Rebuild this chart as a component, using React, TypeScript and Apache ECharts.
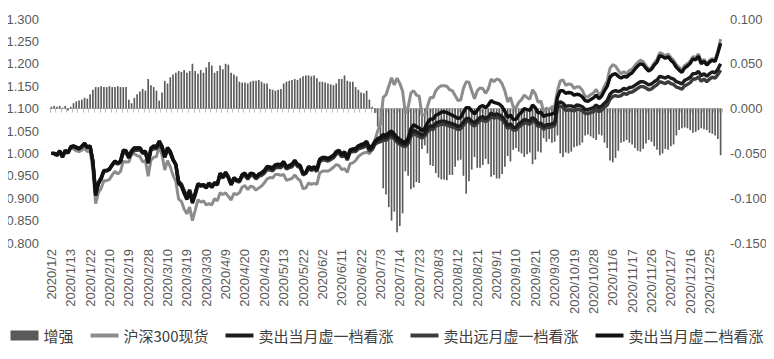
import React, { useEffect, useRef } from "react";
import * as echarts from "echarts";

// Trading days of 2020 (month -> days)
const tradingDays: [number, number[]][] = [
  [1, [2, 3, 6, 7, 8, 9, 10, 13, 14, 15, 16, 17, 20, 21, 22, 23]],
  [2, [3, 4, 5, 6, 7, 10, 11, 12, 13, 14, 17, 18, 19, 20, 21, 24, 25, 26, 27, 28]],
  [3, [2, 3, 4, 5, 6, 9, 10, 11, 12, 13, 16, 17, 18, 19, 20, 23, 24, 25, 26, 27, 30, 31]],
  [4, [1, 2, 3, 7, 8, 9, 10, 13, 14, 15, 16, 17, 20, 21, 22, 23, 24, 27, 28, 29, 30]],
  [5, [6, 7, 8, 11, 12, 13, 14, 15, 18, 19, 20, 21, 22, 25, 26, 27, 28, 29]],
  [6, [1, 2, 3, 4, 5, 8, 9, 10, 11, 12, 15, 16, 17, 18, 19, 22, 23, 24, 29, 30]],
  [7, [1, 2, 3, 6, 7, 8, 9, 10, 13, 14, 15, 16, 17, 20, 21, 22, 23, 24, 27, 28, 29, 30, 31]],
  [8, [3, 4, 5, 6, 7, 10, 11, 12, 13, 14, 17, 18, 19, 20, 21, 24, 25, 26, 27, 28, 31]],
  [9, [1, 2, 3, 4, 7, 8, 9, 10, 11, 14, 15, 16, 17, 18, 21, 22, 23, 24, 25, 28, 29, 30]],
  [10, [9, 12, 13, 14, 15, 16, 19, 20, 21, 22, 23, 26, 27, 28, 29, 30]],
  [11, [2, 3, 4, 5, 6, 9, 10, 11, 12, 13, 16, 17, 18, 19, 20, 23, 24, 25, 26, 27, 30]],
  [12, [1, 2, 3, 4, 7, 8, 9, 10, 11, 14, 15, 16, 17, 18, 21, 22, 23, 24, 25, 28, 29, 30, 31]],
];
const categories: string[] = tradingDays.flatMap(([m, days]) => days.map((d) => `2020/${m}/${d}`));

const seriesNames = ["增强", "沪深300现货", "卖出当月虚一档看涨", "卖出远月虚一档看涨", "卖出当月虚二档看涨"];

// 增强 (right axis)
const enhance = [
  0.002, 0.003, 0.002, 0.003, 0.001, 0.003, -0.002, 0.002, 0.006, 0.008, 0.009, 0.010, 0.012, 0.011, 0.016, 0.021,
  0.024, 0.024, 0.025, 0.024, 0.024, 0.025, 0.024, 0.024, 0.025, 0.024, 0.024, 0.024, 0.010, 0.006, 0.012, 0.016, 0.019, 0.022, 0.020, 0.033,
  0.026, 0.024, 0.020, 0.009, 0.018, 0.031, 0.028, 0.035, 0.038, 0.040, 0.042, 0.041, 0.043, 0.040, 0.042, 0.050, 0.042, 0.039, 0.043, 0.040, 0.046, 0.052,
  0.048, 0.040, 0.042, 0.048, 0.044, 0.050, 0.049, 0.040, 0.038, 0.036, 0.030, 0.029, 0.029, 0.028, 0.030, 0.031, 0.031, 0.032, 0.030, 0.028, 0.028,
  0.022, 0.021, 0.020, 0.021, 0.022, 0.028, 0.030, 0.031, 0.032, 0.033, 0.032, 0.034, 0.036, 0.037, 0.037, 0.036, 0.037, 0.034,
  0.030, 0.030, 0.029, 0.028, 0.027, 0.026, 0.028, 0.033, 0.033, 0.037, 0.031, 0.030, 0.030, 0.024, 0.021, 0.018, 0.017, 0.020, 0.010, 0.002,
  -0.005, -0.020, -0.034, -0.089, -0.096, -0.110, -0.125, -0.115, -0.138, -0.131, -0.117, -0.070, -0.075, -0.090, -0.088, -0.082, -0.083, -0.045, -0.041, -0.050, -0.063, -0.064, -0.072,
  -0.077, -0.079, -0.079, -0.080, -0.074, -0.074, -0.065, -0.058, -0.057, -0.075, -0.095, -0.081, -0.068, -0.054, -0.066, -0.066, -0.063, -0.056, -0.062, -0.076, -0.074,
  -0.078, -0.078, -0.073, -0.065, -0.053, -0.059, -0.046, -0.044, -0.048, -0.050, -0.054, -0.051, -0.049, -0.062, -0.057, -0.048, -0.049, -0.033, -0.037, -0.034, -0.038, -0.037,
  -0.030, -0.050, -0.054, -0.049, -0.050, -0.048, -0.043, -0.042, -0.041, -0.038, -0.030, -0.029, -0.031, -0.033, -0.035, -0.029,
  -0.030, -0.038, -0.044, -0.058, -0.060, -0.055, -0.047, -0.038, -0.037, -0.035, -0.038, -0.040, -0.044, -0.047, -0.048, -0.045, -0.039, -0.035, -0.037, -0.042, -0.046,
  -0.052, -0.050, -0.045, -0.046, -0.042, -0.040, -0.030, -0.024, -0.022, -0.021, -0.022, -0.024, -0.027, -0.026, -0.024, -0.022, -0.023, -0.024, -0.027, -0.028, -0.030, -0.034, -0.052,
];

// 沪深300现货
const hs300 = [
  1.000, 0.998, 0.994, 1.002, 0.991, 1.003, 1.003, 1.012, 1.010, 1.006, 1.004, 1.007, 1.012, 1.004, 1.006, 0.964,
  0.888, 0.912, 0.922, 0.939, 0.939, 0.942, 0.952, 0.960, 0.954, 0.960, 0.982, 0.981, 0.981, 0.998, 0.999, 0.995, 0.993, 0.981, 0.984, 0.949,
  0.985, 0.991, 0.993, 1.016, 0.997, 0.963, 0.984, 0.970, 0.951, 0.938, 0.898, 0.893, 0.876, 0.865, 0.880, 0.850, 0.873, 0.897, 0.891, 0.894, 0.885, 0.888,
  0.885, 0.899, 0.894, 0.912, 0.908, 0.912, 0.904, 0.896, 0.911, 0.908, 0.912, 0.925, 0.928, 0.919, 0.927, 0.925, 0.918, 0.923, 0.927, 0.934, 0.943,
  0.946, 0.945, 0.953, 0.953, 0.951, 0.953, 0.940, 0.942, 0.944, 0.952, 0.944, 0.939, 0.921, 0.923, 0.934, 0.931, 0.933, 0.931,
  0.956, 0.960, 0.961, 0.960, 0.964, 0.969, 0.975, 0.973, 0.964, 0.966, 0.958, 0.977, 0.979, 0.984, 0.993, 0.998, 1.001, 1.003, 0.999, 1.010,
  1.030, 1.050, 1.066, 1.125, 1.131, 1.150, 1.169, 1.153, 1.168, 1.156, 1.139, 1.090, 1.103, 1.135, 1.140, 1.130, 1.128, 1.085, 1.086, 1.105, 1.125, 1.124, 1.140,
  1.147, 1.151, 1.151, 1.150, 1.142, 1.140, 1.129, 1.118, 1.119, 1.145, 1.160, 1.159, 1.140, 1.122, 1.140, 1.146, 1.145, 1.134, 1.144, 1.166, 1.160,
  1.166, 1.164, 1.155, 1.139, 1.115, 1.125, 1.104, 1.102, 1.114, 1.120, 1.130, 1.125, 1.121, 1.142, 1.133, 1.114, 1.117, 1.093, 1.101, 1.098, 1.104, 1.105,
  1.140, 1.162, 1.164, 1.152, 1.155, 1.154, 1.145, 1.149, 1.148, 1.141, 1.127, 1.126, 1.131, 1.135, 1.143, 1.131,
  1.136, 1.150, 1.162, 1.190, 1.198, 1.195, 1.185, 1.178, 1.182, 1.178, 1.185, 1.188, 1.196, 1.203, 1.208, 1.205, 1.196, 1.188, 1.192, 1.202, 1.210,
  1.225, 1.222, 1.218, 1.222, 1.214, 1.208, 1.198, 1.192, 1.186, 1.196, 1.200, 1.206, 1.216, 1.214, 1.222, 1.204, 1.210, 1.200, 1.208, 1.212, 1.208, 1.228, 1.255,
];

// 卖出当月虚一档看涨
const nearOtm1 = [
  1.000, 1.000, 0.996, 1.005, 0.992, 1.006, 1.001, 1.014, 1.016, 1.013, 1.010, 1.015, 1.022, 1.013, 1.016, 0.982,
  0.909, 0.934, 0.945, 0.962, 0.962, 0.966, 0.975, 0.983, 0.978, 0.983, 1.006, 1.005, 0.991, 1.004, 1.011, 1.011, 1.012, 1.003, 1.004, 0.980,
  1.011, 1.015, 1.013, 1.025, 1.015, 0.993, 1.012, 1.004, 0.987, 0.976, 0.936, 0.930, 0.914, 0.900, 0.917, 0.893, 0.910, 0.932, 0.929, 0.930, 0.926, 0.934,
  0.927, 0.935, 0.932, 0.956, 0.948, 0.958, 0.948, 0.932, 0.946, 0.941, 0.939, 0.952, 0.955, 0.945, 0.955, 0.954, 0.946, 0.953, 0.955, 0.960, 0.969,
  0.967, 0.965, 0.972, 0.973, 0.972, 0.980, 0.968, 0.971, 0.974, 0.983, 0.974, 0.971, 0.954, 0.957, 0.969, 0.965, 0.968, 0.963,
  0.985, 0.989, 0.989, 0.987, 0.990, 0.994, 1.002, 1.005, 0.996, 1.002, 0.988, 1.006, 1.008, 1.008, 1.014, 1.016, 1.018, 1.023, 1.009, 1.012,
  1.025, 1.030, 1.032, 1.036, 1.035, 1.040, 1.044, 1.038, 1.030, 1.025, 1.022, 1.020, 1.028, 1.045, 1.052, 1.048, 1.045, 1.040, 1.045, 1.055, 1.062, 1.060, 1.068,
  1.070, 1.072, 1.072, 1.070, 1.068, 1.066, 1.064, 1.060, 1.062, 1.070, 1.078, 1.078, 1.072, 1.068, 1.074, 1.080, 1.082, 1.078, 1.082, 1.090, 1.086,
  1.088, 1.086, 1.082, 1.074, 1.062, 1.066, 1.058, 1.058, 1.066, 1.070, 1.076, 1.074, 1.072, 1.080, 1.076, 1.066, 1.068, 1.060, 1.064, 1.064, 1.066, 1.068,
  1.110, 1.115, 1.112, 1.105, 1.106, 1.106, 1.104, 1.108, 1.107, 1.104, 1.098, 1.098, 1.100, 1.102, 1.108, 1.102,
  1.106, 1.112, 1.118, 1.132, 1.138, 1.140, 1.138, 1.140, 1.145, 1.143, 1.147, 1.148, 1.152, 1.156, 1.160, 1.160, 1.157, 1.153, 1.155, 1.160, 1.164,
  1.172, 1.170, 1.168, 1.172, 1.168, 1.166, 1.160, 1.158, 1.155, 1.163, 1.166, 1.170, 1.178, 1.178, 1.183, 1.173, 1.178, 1.172, 1.178, 1.182, 1.180, 1.188, 1.200,
];

// 卖出远月虚一档看涨
const farOtm1 = [
  1.000, 1.000, 0.996, 1.004, 0.992, 1.005, 1.001, 1.013, 1.015, 1.012, 1.010, 1.014, 1.020, 1.012, 1.015, 0.984,
  0.912, 0.935, 0.946, 0.961, 0.961, 0.964, 0.973, 0.980, 0.976, 0.980, 1.002, 1.001, 0.989, 1.001, 1.007, 1.007, 1.008, 1.000, 1.001, 0.979,
  1.007, 1.011, 1.010, 1.020, 1.011, 0.991, 1.008, 1.000, 0.985, 0.975, 0.938, 0.932, 0.917, 0.904, 0.919, 0.897, 0.912, 0.932, 0.929, 0.930, 0.926, 0.933,
  0.926, 0.933, 0.930, 0.952, 0.945, 0.954, 0.945, 0.930, 0.943, 0.938, 0.936, 0.948, 0.951, 0.942, 0.951, 0.950, 0.943, 0.949, 0.951, 0.956, 0.964,
  0.963, 0.961, 0.968, 0.969, 0.968, 0.976, 0.965, 0.968, 0.970, 0.979, 0.971, 0.968, 0.952, 0.955, 0.966, 0.962, 0.965, 0.960,
  0.981, 0.985, 0.985, 0.983, 0.986, 0.990, 0.998, 1.001, 0.992, 0.998, 0.985, 1.002, 1.004, 1.004, 1.010, 1.012, 1.014, 1.018, 1.005, 1.008,
  1.020, 1.024, 1.026, 1.030, 1.029, 1.034, 1.038, 1.032, 1.025, 1.020, 1.017, 1.015, 1.022, 1.038, 1.045, 1.041, 1.038, 1.034, 1.039, 1.048, 1.055, 1.053, 1.061,
  1.063, 1.065, 1.065, 1.063, 1.061, 1.059, 1.057, 1.053, 1.055, 1.063, 1.071, 1.071, 1.065, 1.061, 1.067, 1.073, 1.075, 1.071, 1.075, 1.083, 1.079,
  1.081, 1.079, 1.075, 1.067, 1.056, 1.060, 1.052, 1.052, 1.059, 1.063, 1.069, 1.067, 1.065, 1.073, 1.069, 1.060, 1.062, 1.054, 1.058, 1.058, 1.060, 1.062,
  1.102, 1.106, 1.103, 1.096, 1.097, 1.097, 1.095, 1.099, 1.098, 1.095, 1.089, 1.089, 1.091, 1.093, 1.099, 1.093,
  1.097, 1.103, 1.108, 1.121, 1.127, 1.129, 1.127, 1.129, 1.134, 1.132, 1.136, 1.137, 1.141, 1.145, 1.149, 1.149, 1.146, 1.142, 1.144, 1.149, 1.153,
  1.160, 1.158, 1.156, 1.160, 1.156, 1.154, 1.148, 1.146, 1.143, 1.151, 1.154, 1.158, 1.166, 1.166, 1.171, 1.161, 1.166, 1.160, 1.166, 1.170, 1.168, 1.176, 1.186,
];

// 卖出当月虚二档看涨
const nearOtm2 = [
  1.000, 1.000, 0.997, 1.006, 0.993, 1.007, 1.002, 1.015, 1.017, 1.014, 1.011, 1.016, 1.023, 1.014, 1.017, 0.980,
  0.906, 0.932, 0.943, 0.961, 0.961, 0.965, 0.975, 0.983, 0.978, 0.983, 1.007, 1.006, 0.993, 1.006, 1.013, 1.012, 1.013, 1.003, 1.005, 0.978,
  1.012, 1.017, 1.015, 1.028, 1.016, 0.992, 1.013, 1.004, 0.986, 0.974, 0.933, 0.927, 0.911, 0.897, 0.914, 0.889, 0.907, 0.930, 0.927, 0.928, 0.923, 0.931,
  0.924, 0.933, 0.930, 0.955, 0.947, 0.957, 0.947, 0.930, 0.945, 0.940, 0.939, 0.953, 0.956, 0.946, 0.956, 0.955, 0.947, 0.954, 0.957, 0.962, 0.971,
  0.970, 0.968, 0.975, 0.976, 0.975, 0.982, 0.970, 0.973, 0.976, 0.985, 0.976, 0.973, 0.955, 0.958, 0.971, 0.967, 0.970, 0.965,
  0.987, 0.991, 0.991, 0.989, 0.992, 0.996, 1.004, 1.007, 0.998, 1.004, 0.990, 1.008, 1.010, 1.011, 1.017, 1.020, 1.022, 1.027, 1.013, 1.017,
  1.027, 1.033, 1.036, 1.042, 1.040, 1.046, 1.050, 1.043, 1.036, 1.031, 1.027, 1.025, 1.034, 1.055, 1.064, 1.060, 1.057, 1.050, 1.056, 1.068, 1.077, 1.076, 1.085,
  1.088, 1.092, 1.093, 1.091, 1.088, 1.085, 1.082, 1.078, 1.080, 1.092, 1.102, 1.102, 1.095, 1.088, 1.096, 1.104, 1.107, 1.102, 1.108, 1.118, 1.114,
  1.112, 1.110, 1.104, 1.094, 1.080, 1.086, 1.076, 1.076, 1.086, 1.092, 1.100, 1.098, 1.096, 1.108, 1.102, 1.090, 1.092, 1.082, 1.086, 1.086, 1.088, 1.090,
  1.125, 1.140, 1.140, 1.134, 1.136, 1.135, 1.130, 1.132, 1.131, 1.126, 1.118, 1.116, 1.120, 1.124, 1.130, 1.122,
  1.128, 1.140, 1.150, 1.170, 1.176, 1.178, 1.172, 1.168, 1.172, 1.170, 1.176, 1.180, 1.188, 1.195, 1.200, 1.198, 1.190, 1.184, 1.188, 1.197, 1.204,
  1.218, 1.216, 1.212, 1.216, 1.208, 1.202, 1.192, 1.186, 1.181, 1.191, 1.195, 1.201, 1.211, 1.209, 1.217, 1.200, 1.206, 1.197, 1.204, 1.208, 1.205, 1.224, 1.246,
];

const leftTicks = { min: 0.8, max: 1.3, interval: 0.05 };
const rightTicks = { min: -0.15, max: 0.1, interval: 0.05 };

const FONT = "'Liberation Sans', Arial, sans-serif";
const LINE_ICON = "path://M0,0 L28,0 L28,4 L0,4 Z";

export default function App() {
  const ref = useRef<HTMLDivElement>(null);
  useEffect(() => {
    if (!ref.current) return;
    const chart = echarts.init(ref.current, undefined, { renderer: "svg" });
    const lineSeries = (name: string, data: number[], color: string, width: number, z: number) => ({
      name,
      type: "line",
      data,
      yAxisIndex: 0,
      symbol: "none",
      showSymbol: false,
      smooth: false,
      z,
      lineStyle: { color, width },
      itemStyle: { color },
    });
    chart.setOption({
      animation: false,
      backgroundColor: "#ffffff",
      grid: { left: 50, right: 52, top: 19, bottom: 116, containLabel: false },
      legend: {
        data: [
          { name: seriesNames[0], icon: "rect" },
          { name: seriesNames[1], icon: LINE_ICON },
          { name: seriesNames[2], icon: LINE_ICON },
          { name: seriesNames[3], icon: LINE_ICON },
          { name: seriesNames[4], icon: LINE_ICON },
        ],
        bottom: 11,
        left: "center",
        itemWidth: 28,
        itemHeight: 10,
        itemGap: 17,
        symbolKeepAspect: true,
        textStyle: { fontSize: 15, color: "#404040", fontFamily: "'Noto Sans CJK SC', sans-serif" },
      },
      xAxis: {
        type: "category",
        data: categories,
        boundaryGap: true,
        axisLine: { lineStyle: { color: "#bfbfbf", width: 1 } },
        axisTick: { show: true, interval: 1, length: 4, lineStyle: { color: "#bfbfbf" } },
        axisLabel: { interval: 6, rotate: 90, fontSize: 13, color: "#595959", fontFamily: FONT, margin: 6 },
        splitLine: { show: false },
      },
      yAxis: [
        {
          type: "value",
          min: leftTicks.min,
          max: leftTicks.max,
          interval: leftTicks.interval,
          axisLine: { show: false },
          axisTick: { show: false },
          splitLine: { show: false },
          axisLabel: { fontSize: 13, color: "#595959", fontFamily: FONT, margin: 11, formatter: (v: number) => v.toFixed(3) },
        },
        {
          type: "value",
          min: rightTicks.min,
          max: rightTicks.max,
          interval: rightTicks.interval,
          position: "right",
          axisLine: { show: false },
          axisTick: { show: false },
          splitLine: { show: false },
          axisLabel: { fontSize: 13, color: "#595959", fontFamily: FONT, margin: 8, formatter: (v: number) => v.toFixed(3) },
        },
      ],
      series: [
        {
          name: seriesNames[0],
          type: "bar",
          data: enhance,
          yAxisIndex: 1,
          barCategoryGap: "40%",
          itemStyle: { color: "#5a5a5a" },
          z: 1,
        },
        lineSeries(seriesNames[1], hs300, "#8c8c8c", 3, 2),
        lineSeries(seriesNames[3], farOtm1, "#3c3c3c", 3.4, 3),
        lineSeries(seriesNames[2], nearOtm1, "#1c1c1c", 3.4, 4),
        lineSeries(seriesNames[4], nearOtm2, "#111111", 3.4, 5),
      ],
    });
    return () => chart.dispose();
  }, []);
  return <div ref={ref} style={{ width: 774, height: 359, margin: -8 }} />;
}
